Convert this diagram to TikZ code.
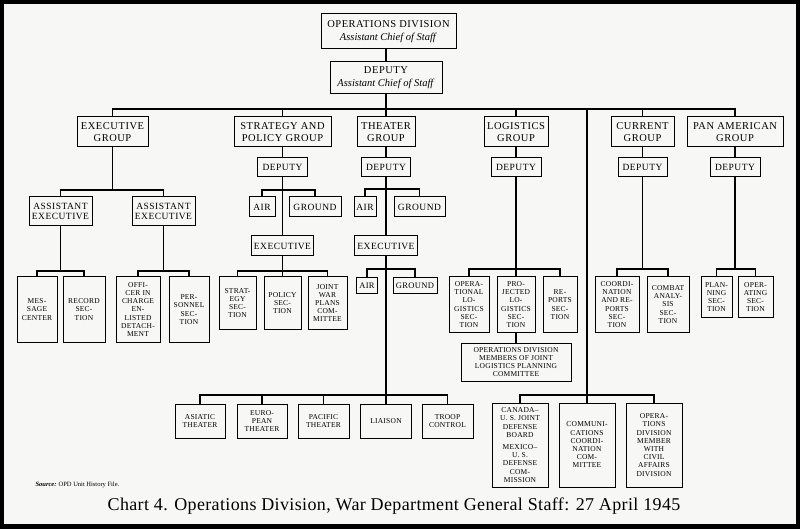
\documentclass[tikz,border=0pt]{standalone}
\usepackage{fontspec}
\setmainfont{Liberation Serif}
\definecolor{paper}{rgb}{.97,.97,.96}
\newcommand{\chiefline}[1]{\textit{\addfontfeature{LetterSpace=0}#1}}

\tikzset{
  box/.style={draw, line width=1pt, fill=paper, align=center, inner sep=1pt},
  wh/.style 2 args={minimum width=#1pt, minimum height=#2pt},
  head/.style={box, font=\fontsize{10.5}{13}\selectfont\addfontfeature{LetterSpace=5}},
  grp/.style={box, font=\fontsize{10.5}{11.5}\selectfont\addfontfeature{LetterSpace=5}},
  sml/.style={box, font=\fontsize{9.5}{10}\selectfont\addfontfeature{LetterSpace=5}},
  low/.style={box, font=\fontsize{8.5}{9}\selectfont\addfontfeature{LetterSpace=4}},
  sec/.style={box, font=\fontsize{7.5}{8.2}\selectfont\addfontfeature{LetterSpace=3}},
  link/.style={line width=1.8pt}
}

\begin{document}
\begin{tikzpicture}[x=1pt, y=-1pt]
    % Paper and frame
    \fill[black] (0,0) rectangle (800,529);
    \fill[paper] (4,4) rectangle (796,524);

    % Top of the division
    \node[head, wh={135}{35}] (od) at (388.5,31.5) {OPERATIONS DIVISION\\\chiefline{Assistant Chief of Staff}};
    \node[head, wh={112}{32}] (dep) at (386,78) {DEPUTY\\\chiefline{Assistant Chief of Staff}};

    % The groups
    \node[grp, wh={71}{30}] (exg) at (112.5,132) {EXECUTIVE\\GROUP};
    \node[grp, wh={97}{30}] (spg) at (282.5,132) {STRATEGY AND\\POLICY GROUP};
    \node[grp, wh={58}{30}] (thg) at (386,132) {THEATER\\GROUP};
    \node[grp, wh={64}{30}] (lgg) at (516,132) {LOGISTICS\\GROUP};
    \node[grp, wh={63}{30}] (cug) at (642.5,132) {CURRENT\\GROUP};
    \node[grp, wh={96}{30}] (pag) at (735,132) {PAN AMERICAN\\GROUP};

    % Deputies of the groups
    \node[sml, wh={50}{19}] (sdep) at (282.5,167.5) {DEPUTY};
    \node[sml, wh={49}{19}] (tdep) at (386,167.5) {DEPUTY};
    \node[sml, wh={50}{19}] (ldep) at (516,167.5) {DEPUTY};
    \node[sml, wh={49}{19}] (cdep) at (642.5,167.5) {DEPUTY};
    \node[sml, wh={50}{19}] (pdep) at (735,167.5) {DEPUTY};

    % Executive group
    \node[sml, wh={63}{29}] (ae1) at (60.5,211.5) {ASSISTANT\\EXECUTIVE};
    \node[sml, wh={63}{29}] (ae2) at (163.5,211.5) {ASSISTANT\\EXECUTIVE};
    \node[sec, wh={40}{65}] (msg) at (37,309.5) {MES-\\SAGE\\CENTER};
    \node[sec, wh={42}{65}] (rec) at (84,309.5) {RECORD\\SEC-\\TION};
    \node[sec, wh={44}{65}] (off) at (138,309.5) {OFFI-\\CER IN\\CHARGE\\EN-\\LISTED\\DETACH-\\MENT};
    \node[sec, wh={40}{65}] (per) at (189,309.5) {PER-\\SONNEL\\SEC-\\TION};

    % Strategy and policy group
    \node[sml, wh={26}{20}] (sair) at (262,207) {AIR};
    \node[sml, wh={52}{20}] (sgnd) at (315,207) {GROUND};
    \node[sml, wh={62}{20}] (sexe) at (282.5,246) {EXECUTIVE};
    \node[sec, wh={37}{52}] (ssec) at (237.5,303) {STRAT-\\EGY\\SEC-\\TION};
    \node[sec, wh={37}{52}] (psec) at (282.5,303) {POLICY\\SEC-\\TION};
    \node[sec, wh={39}{52}] (jwp) at (327.5,303) {JOINT\\WAR\\PLANS\\COM-\\MITTEE};

    % Theater group
    \node[sml, wh={22}{20}] (tair) at (365,207) {AIR};
    \node[sml, wh={51}{20}] (tgnd) at (419.5,207) {GROUND};
    \node[sml, wh={63}{20}] (texe) at (386,246) {EXECUTIVE};
    \node[low, wh={21}{16}] (tair2) at (367,285.5) {AIR};
    \node[low, wh={44}{16}] (tgnd2) at (415,285.5) {GROUND};
    \node[sec, wh={50}{34}] (asi) at (200,421) {ASIATIC\\THEATER};
    \node[sec, wh={50}{34}] (eur) at (262,421) {EURO-\\PEAN\\THEATER};
    \node[sec, wh={51}{34}] (pac) at (323.5,421) {PACIFIC\\THEATER};
    \node[sec, wh={51}{34}] (lia) at (386,421) {LIAISON};
    \node[sec, wh={51}{34}] (trp) at (447.5,421) {TROOP\\CONTROL};

    % Logistics group
    \node[sec, wh={40}{55}] (opl) at (469,304.5) {OPERA-\\TIONAL\\LO-\\GISTICS\\SEC-\\TION};
    \node[sec, wh={38}{55}] (prl) at (516,304.5) {PRO-\\JECTED\\LO-\\GISTICS\\SEC-\\TION};
    \node[sec, wh={34}{55}] (rep) at (560,304.5) {RE-\\PORTS\\SEC-\\TION};
    \node[sec, wh={110}{38}] (jlpc) at (516,362) {OPERATIONS DIVISION\\MEMBERS OF JOINT\\LOGISTICS PLANNING\\COMMITTEE};

    % Boards and committees under the division
    \node[sec, wh={56}{84}] (can) at (520,445) {CANADA--\\U. S. JOINT\\DEFENSE\\BOARD\\[4pt]MEXICO--\\U. S.\\DEFENSE\\COM-\\MISSION};
    \node[sec, wh={56}{84}] (com) at (587,445) {COMMUNI-\\CATIONS\\COORDI-\\NATION\\COM-\\MITTEE};
    \node[sec, wh={56}{84}] (civ) at (654,445) {OPERA-\\TIONS\\DIVISION\\MEMBER\\WITH\\CIVIL\\AFFAIRS\\DIVISION};

    % Current group
    \node[sec, wh={44}{55}] (cor) at (617,304.5) {COORDI-\\NATION\\AND RE-\\PORTS\\SEC-\\TION};
    \node[sec, wh={42}{55}] (cba) at (668,304.5) {COMBAT\\ANALY-\\SIS\\SEC-\\TION};

    % Pan American group
    \node[sec, wh={31}{40}] (pln) at (716.5,297) {PLAN-\\NING\\SEC-\\TION};
    \node[sec, wh={35}{40}] (opr) at (755.5,297) {OPER-\\ATING\\SEC-\\TION};

    % Bars of the tree
    \coordinate (mbar) at (386,109);
    \coordinate (ebar) at (112.5,190);
    \coordinate (ebar1) at (60.5,271);
    \coordinate (ebar2) at (163.5,271);
    \coordinate (sbar1) at (282.5,190);
    \coordinate (sbar2) at (282.5,271);
    \coordinate (tbar1) at (386,189);
    \coordinate (tbar2) at (386,269);
    \coordinate (tbar3) at (386,395);
    \coordinate (lbar) at (516,269);
    \coordinate (bbar) at (587,395);
    \coordinate (cbar) at (642.5,269);
    \coordinate (pbar) at (735,269);

    % Main line
    \draw[link] (od.south -| dep.north) -- (dep.north);
    \draw[link] (dep.south) -- (thg.north);
    \draw[link] (exg.north) |- (mbar) -| (pag.north);
    \foreach \g in {spg,lgg,cug}
        \draw[link] (\g.north) -- (\g.north |- mbar);
    \draw[link] (com.north |- mbar) -- (com.north);
    \draw[link] (can.north) |- (bbar) -| (civ.north);

    % Executive group lines
    \draw[link] (exg.south) -- (ebar);
    \draw[link] (ae1.north) |- (ebar) -| (ae2.north);
    \draw[link] (ae1.south) -- (ebar1);
    \draw[link] (msg.north) |- (ebar1) -| (rec.north);
    \draw[link] (ae2.south) -- (ebar2);
    \draw[link] (off.north) |- (ebar2) -| (per.north);

    % Strategy and policy lines
    \draw[link] (spg.south) -- (sdep.north);
    \draw[link] (sdep.south) -- (sexe.north);
    \draw[link] (sair.north) |- (sbar1) -| (sgnd.north);
    \draw[link] (sexe.south) -- (psec.north);
    \draw[link] (ssec.north) |- (sbar2) -| (jwp.north);

    % Theater lines
    \draw[link] (thg.south) -- (tdep.north);
    \draw[link] (tdep.south) -- (texe.north);
    \draw[link] (tair.north) |- (tbar1) -| (tgnd.north);
    \draw[link] (texe.south) -- (lia.north);
    \draw[link] (tair2.north) |- (tbar2) -| (tgnd2.north);
    \draw[link] (asi.north) |- (tbar3) -| (trp.north);
    \foreach \t in {eur,pac}
        \draw[link] (\t.north) -- (\t.north |- tbar3);

    % Logistics lines
    \draw[link] (lgg.south) -- (ldep.north);
    \draw[link] (ldep.south) -- (prl.north);
    \draw[link] (opl.north) |- (lbar) -| (rep.north);
    \draw[link] (prl.south) -- (jlpc.north);

    % Current and Pan American lines
    \draw[link] (cug.south) -- (cdep.north);
    \draw[link] (cdep.south) -- (cbar);
    \draw[link] (cor.north) |- (cbar) -| (cba.north);
    \draw[link] (pag.south) -- (pdep.north);
    \draw[link] (pdep.south) -- (pbar);
    \draw[link] (pln.north) |- (pbar) -| (opr.north);

    % Source and caption
    \node[anchor=west, font=\fontsize{6.5}{7}\selectfont] (src) at (32,485) {\textbf{\textit{Source:}} OPD Unit History File.};
    \node[font=\fontsize{18}{20}\selectfont\addfontfeature{LetterSpace=2}] (cap) at (394,506) {Chart 4. Operations Division, War Department General Staff: 27 April 1945};
\end{tikzpicture}
\end{document}
